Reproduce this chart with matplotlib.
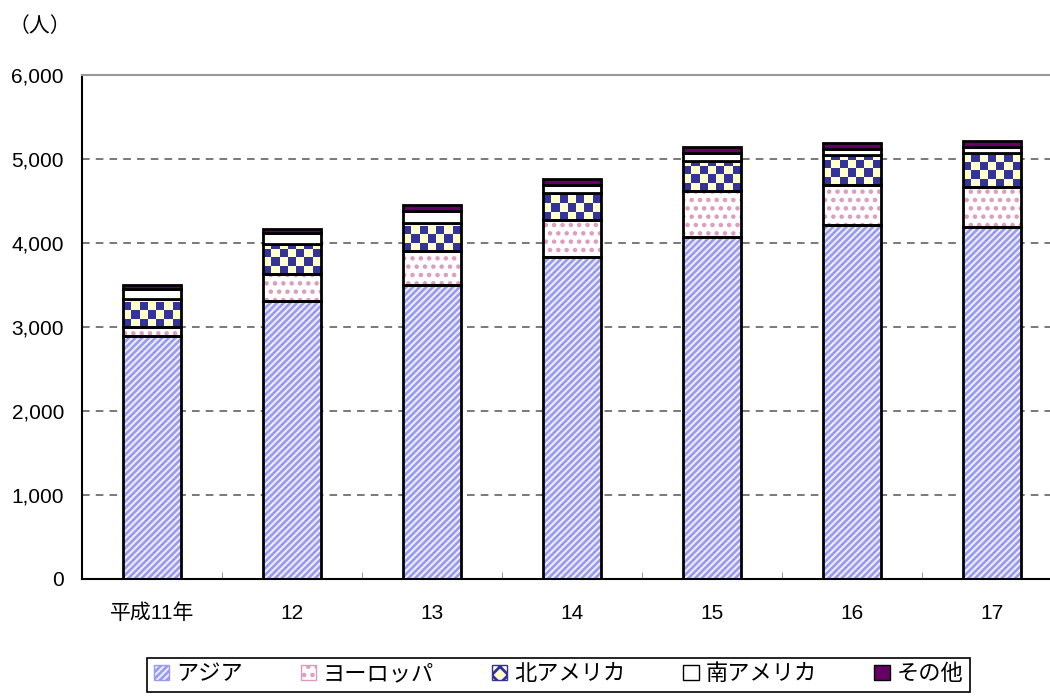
import matplotlib
matplotlib.use('Agg')
import matplotlib.pyplot as plt
import numpy as np
from matplotlib.patches import Patch
from matplotlib.colors import ListedColormap

plt.rcParams['font.family'] = ['Liberation Sans', 'Noto Sans CJK JP']
plt.rcParams['hatch.linewidth'] = 2.0

# データ（人）
years = ['平成11年', '12', '13', '14', '15', '16', '17']
asia = [2885, 3310, 3500, 3833, 4071, 4214, 4194]
europe = [111, 317, 405, 433, 548, 480, 476]
n_america = [334, 357, 333, 333, 357, 354, 398]
s_america = [122, 131, 143, 91, 92, 71, 71]
other = [48, 52, 75, 72, 79, 75, 75]
labels = ['アジア', 'ヨーロッパ', '北アメリカ', '南アメリカ', 'その他']

fig = plt.figure(figsize=(10.5, 6.98), dpi=100)
ax = fig.add_axes([0.0781, 0.1712, 0.9333, 0.7214])

x = np.arange(len(years))
w = 0.41
bottom = np.zeros(len(years))

# アジア：斜線
ax.bar(x, asia, w, bottom=bottom, facecolor='#f2f2ff', edgecolor='#9a9cf4',
       hatch='/////', linewidth=0, zorder=2)
ax.bar(x, asia, w, bottom=bottom, fill=False, edgecolor='black', linewidth=2, zorder=4)
bottom += asia

# ヨーロッパ：点
ax.bar(x, europe, w, bottom=bottom, facecolor='white', edgecolor='#dc9cbc',
       hatch='..', linewidth=0, zorder=2)
ax.bar(x, europe, w, bottom=bottom, fill=False, edgecolor='black', linewidth=2, zorder=4)
bottom += europe

# 北アメリカ：市松模様
cmap = ListedColormap(['#333399', '#ffffcc'])
na_bars = ax.bar(x, n_america, w, bottom=bottom, facecolor='#ffffcc', linewidth=0, zorder=2)
sq = 99  # 市松1マスの高さ（データ単位）
for b in na_bars:
    x0, y0 = b.get_x(), b.get_y()
    h = b.get_height()
    nr = max(1, int(round(h / sq)))
    nc = 7
    board = (np.add.outer(np.arange(nr), np.arange(nc)) % 2)
    im = ax.imshow(board, cmap=cmap, extent=(x0, x0 + w, y0, y0 + nr * sq),
                   origin='lower', aspect='auto', interpolation='nearest', zorder=3)
    im.set_clip_path(b)
ax.bar(x, n_america, w, bottom=bottom, fill=False, edgecolor='black', linewidth=2, zorder=4)
bottom += n_america

# 南アメリカ：白
ax.bar(x, s_america, w, bottom=bottom, facecolor='white', edgecolor='black', linewidth=2, zorder=4)
bottom += s_america

# その他：紫
ax.bar(x, other, w, bottom=bottom, facecolor='#660066', edgecolor='black', linewidth=2, zorder=4)

ax.set_xlim(-0.5, len(years) - 0.5)
ax.set_ylim(0, 6000)
ax.set_yticks(range(0, 6001, 1000))
ax.set_yticklabels([f'{v:,}' for v in range(0, 6001, 1000)])
ax.set_xticks(x)
ax.set_xticklabels(years)
ax.set_xticks(np.arange(0.5, len(years) - 1, 1), minor=True)
ax.tick_params(axis='x', which='major', length=0, pad=18, labelsize=15)
ax.tick_params(axis='x', which='minor', direction='in', length=5, color='#888888')
ax.tick_params(axis='y', length=0, pad=13, labelsize=15)

ax.grid(axis='y', linestyle=(0, (5, 4)), color='#555555', linewidth=1.1, zorder=0)
ax.set_axisbelow(True)
ax.spines['top'].set_color('#999999')
ax.spines['top'].set_linewidth(1.5)
ax.spines['left'].set_linewidth(1.5)
ax.spines['bottom'].set_linewidth(1.5)
ax.spines['right'].set_visible(False)

fig.text(0.008, 0.963, '（人）', fontsize=15, va='center', ha='left')

handles = [
    Patch(facecolor='#f2f2ff', edgecolor='#9a9cf4', hatch='/////'),
    Patch(facecolor='white', edgecolor='#dc9cbc', hatch='..'),
    Patch(facecolor='#ffffcc', edgecolor='#333399', hatch='xx'),
    Patch(facecolor='white', edgecolor='black'),
    Patch(facecolor='#660066', edgecolor='black'),
]
leg = fig.legend(handles, labels, loc='center', bbox_to_anchor=(0.532, 0.033),
                 ncol=5, fontsize=16, frameon=True, fancybox=False, edgecolor='black',
                 framealpha=1, handlelength=0.7, handleheight=0.7, handletextpad=0.3,
                 columnspacing=2.6, borderpad=0.3)
leg.get_frame().set_linewidth(1.2)

fig.savefig('out.png', dpi=100)
